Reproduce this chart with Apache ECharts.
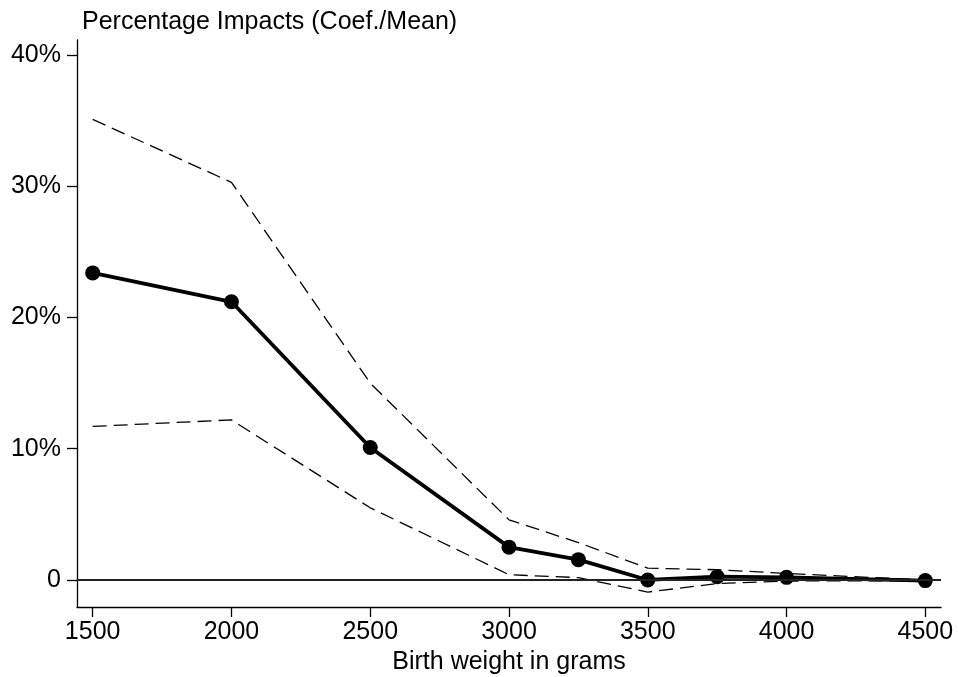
<!DOCTYPE html>
<html>
<head>
<meta charset="utf-8">
<script src="https://cdn.jsdelivr.net/npm/echarts@6/dist/echarts.min.js"></script>
<style>
  html, body { margin: 0; padding: 0; background: #fff; }
  #chart { width: 958px; height: 677px; }
</style>
</head>
<body>
<div id="chart"></div>
<script>
// birth weight bins (grams)
var weights = [1500, 2000, 2500, 3000, 3250, 3500, 3750, 4000, 4500];
// percentage impact (coef./mean), in %
var impact = [23.4, 21.2, 10.1, 2.5, 1.55, 0.0, 0.25, 0.2, -0.05];
// confidence bounds, in %
var upper = [35.1, 30.3, 15.0, 4.58, 2.85, 0.9, 0.78, 0.5, 0.0];
var lower = [11.7, 12.2, 5.5, 0.4, 0.18, -0.92, -0.28, -0.08, -0.05];

var xTicks = [1500, 2000, 2500, 3000, 3500, 4000, 4500];
var yTicks = [0, 10, 20, 30, 40];

function pairs(ys) {
  return weights.map(function (w, i) { return [w, ys[i]]; });
}

var font = '"Liberation Sans", Arial, Helvetica, sans-serif';
var chart = echarts.init(document.getElementById('chart'));

chart.setOption({
  animation: false,
  backgroundColor: '#fff',
  title: {
    text: 'Percentage Impacts (Coef./Mean)',
    left: 77,
    top: 5,
    textStyle: { fontFamily: font, fontSize: 25, fontWeight: 'normal', color: '#000' }
  },
  grid: { left: 77, right: 17, top: 40, bottom: 70, outerBoundsMode: 'none' },
  xAxis: {
    type: 'value',
    min: 1443.5,
    max: 4556.5,
    name: 'Birth weight in grams',
    nameLocation: 'middle',
    nameGap: 42,
    nameTextStyle: { fontFamily: font, fontSize: 25, color: '#000' },
    splitLine: { show: false },
    axisLine: { show: true, onZero: false, lineStyle: { color: '#000', width: 1.3 } },
    axisTick: { show: true, length: 10, customValues: xTicks, lineStyle: { color: '#000', width: 1.3 } },
    axisLabel: {
      customValues: xTicks,
      margin: 13,
      fontFamily: font,
      fontSize: 25,
      color: '#000',
      formatter: function (v) { return String(v); }
    }
  },
  yAxis: {
    type: 'value',
    min: -2.06,
    max: 41.15,
    splitLine: { show: false },
    axisLine: { show: true, onZero: false, lineStyle: { color: '#000', width: 1.3 } },
    axisTick: { show: true, length: 10, customValues: yTicks, lineStyle: { color: '#000', width: 1.3 } },
    axisLabel: {
      customValues: yTicks,
      margin: 16,
      fontFamily: font,
      fontSize: 25,
      color: '#000',
      formatter: function (v) { return v === 0 ? '0' : v + '%'; }
    }
  },
  series: [
    {
      type: 'line',
      data: [],
      z: 1,
      markLine: {
        silent: true,
        symbol: 'none',
        label: { show: false },
        lineStyle: { color: '#222', width: 1.8, type: 'solid' },
        data: [{ yAxis: 0 }]
      }
    },
    {
      type: 'line',
      data: pairs(upper),
      showSymbol: false,
      z: 2,
      lineStyle: { color: '#000', width: 1.3, type: [14, 7] }
    },
    {
      type: 'line',
      data: pairs(lower),
      showSymbol: false,
      z: 2,
      lineStyle: { color: '#000', width: 1.3, type: [14, 7] }
    },
    {
      type: 'line',
      data: pairs(impact),
      symbol: 'circle',
      symbolSize: 15,
      z: 3,
      itemStyle: { color: '#000' },
      lineStyle: { color: '#000', width: 3.8 }
    }
  ]
});
</script>
</body>
</html>
